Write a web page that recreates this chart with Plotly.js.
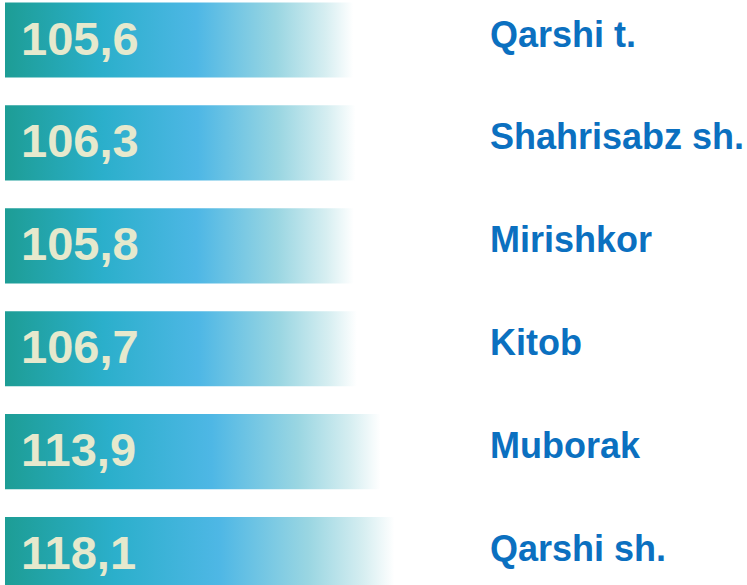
<!DOCTYPE html>
<html><head><meta charset="utf-8">
<script src="https://cdn.plot.ly/plotly-3.0.1.min.js"></script>
<style>html,body{margin:0;padding:0;background:#fff}</style>
</head><body><div id="chart" style="width:747px;height:585px"></div>
<script>
const categories = ['Qarshi t.', 'Shahrisabz sh.', 'Mirishkor', 'Kitob', 'Muborak', 'Qarshi sh.'];
const values = [105.6, 106.3, 105.8, 106.7, 113.9, 118.1];
const valueLabels = ['105,6', '106,3', '105,8', '106,7', '113,9', '118,1'];

const grad = [[0, '#1d9d95'], [0.28, '#2bafcb'], [0.55, '#4eb7e5'], [0.78, '#9ad6e2'], [0.92, '#d6eef1'], [1, '#ffffff']];
const barHalf = 0.365;

const traces = values.map((v, i) => ({
  type: 'scatter', mode: 'lines',
  x: [0, v, v, 0, 0],
  y: [i - barHalf, i - barHalf, i + barHalf, i + barHalf, i - barHalf],
  fill: 'toself',
  line: {width: 0, color: 'rgba(0,0,0,0)'},
  fillgradient: {type: 'horizontal', colorscale: grad},
  hoverinfo: 'skip', showlegend: false
}));

const annotations = [];
values.forEach((v, i) => {
  annotations.push({
    x: 0, y: i, xref: 'x', yref: 'y', xanchor: 'left', yanchor: 'middle',
    xshift: 14, yshift: 2, showarrow: false, text: valueLabels[i],
    font: {family: 'Liberation Sans, Arial, sans-serif', size: 47, color: '#e6e9cd', weight: 700}
  });
  annotations.push({
    x: 0.651, y: i, xref: 'paper', yref: 'y', xanchor: 'left', yanchor: 'middle',
    yshift: 6, showarrow: false, text: categories[i],
    font: {family: 'Liberation Sans, Arial, sans-serif', size: 36, color: '#0b70c0', weight: 700}
  });
});

const layout = {
  width: 747, height: 585,
  margin: {l: 5, r: 0, t: 0, b: 0},
  paper_bgcolor: '#ffffff', plot_bgcolor: '#ffffff',
  xaxis: {range: [0, 225], visible: false, fixedrange: true},
  yaxis: {range: [5.296, -0.389], visible: false, fixedrange: true},
  annotations: annotations,
  showlegend: false
};
Plotly.newPlot('chart', traces, layout, {displayModeBar: false, staticPlot: true});
</script>
</body></html>
